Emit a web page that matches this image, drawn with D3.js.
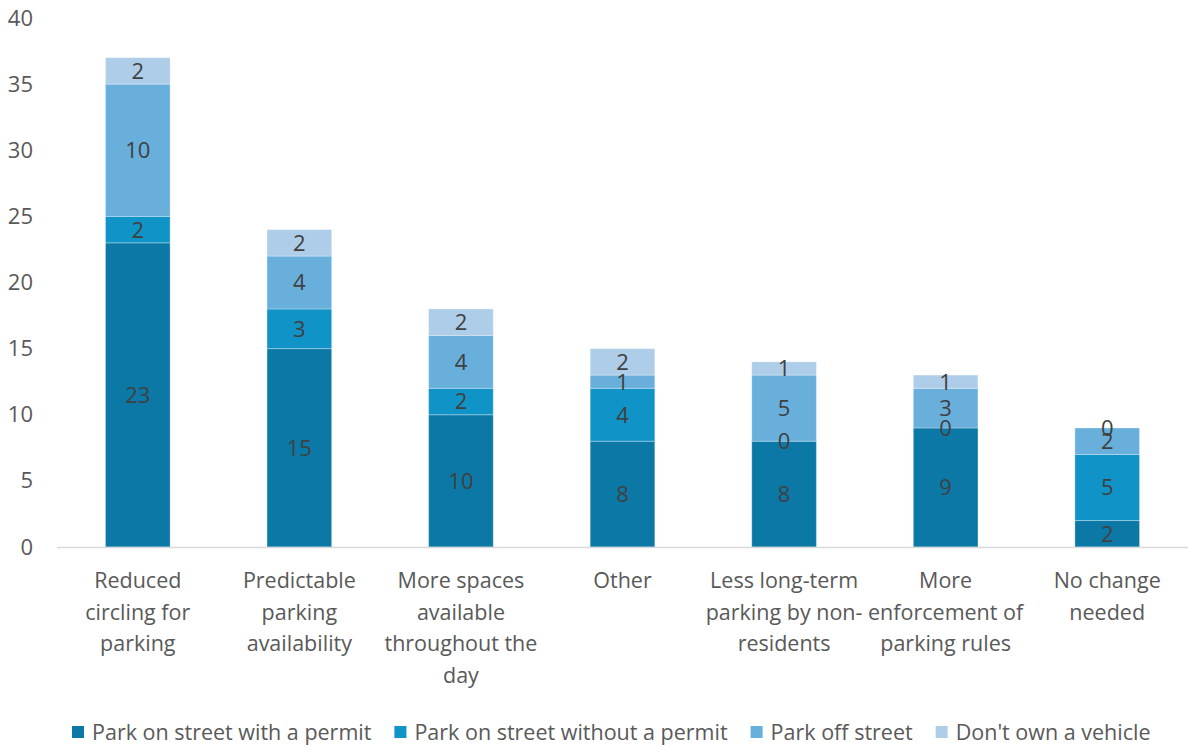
<!DOCTYPE html>
<html>
<head>
<meta charset="utf-8">
<script src="https://cdn.jsdelivr.net/npm/d3@7"></script>
<style>
  html, body { margin: 0; padding: 0; background: #fff; }
  svg text { font-family: "Open Sans", "Noto Sans", sans-serif; }
</style>
</head>
<body>
<svg id="chart" width="1188" height="747"></svg>
<script>
// Survey responses: what would improve parking, split by respondent parking situation
const categories = [
  "Reduced circling for parking",
  "Predictable parking availability",
  "More spaces available throughout the day",
  "Other",
  "Less long-term parking by non-residents",
  "More enforcement of parking rules",
  "No change needed"
];
// Wrapped tick label lines for each category
const categoryLines = [
  ["Reduced", "circling for", "parking"],
  ["Predictable", "parking", "availability"],
  ["More spaces", "available", "throughout the", "day"],
  ["Other"],
  ["Less long-term", "parking by non-", "residents"],
  ["More", "enforcement of", "parking rules"],
  ["No change", "needed"]
];
const seriesNames = [
  "Park on street with a permit",
  "Park on street without a permit",
  "Park off street",
  "Don't own a vehicle"
];
const withPermit    = [23, 15, 10, 8, 8, 9, 2];
const withoutPermit = [2, 3, 2, 4, 0, 0, 5];
const offStreet     = [10, 4, 4, 1, 5, 3, 2];
const noVehicle     = [2, 2, 2, 2, 1, 1, 0];
const yTicks = [0, 5, 10, 15, 20, 25, 30, 35, 40];

const colors = ["#0c78a6", "#1093c6", "#68afdc", "#aecde8"];
const seriesValues = [withPermit, withoutPermit, offStreet, noVehicle];

const svg = d3.select("#chart");
const plotBottom = 547, plotTop = 18;

const x = d3.scaleBand().domain(categories).range([57, 1188]).paddingInner(0.6).paddingOuter(0.3);
const y = d3.scaleLinear().domain([0, 40]).range([plotBottom, plotTop]);

// Stack the four series
const rows = categories.map((c, i) => {
  const r = { category: c };
  seriesNames.forEach((s, k) => r[s] = seriesValues[k][i]);
  return r;
});
const stacked = d3.stack().keys(seriesNames)(rows);

// Y axis tick labels (no axis line, no gridlines)
const yAxis = d3.axisLeft(y).tickValues(yTicks).tickSize(0).tickPadding(0);
const yG = svg.append("g").attr("transform", "translate(33,0)").call(yAxis);
yG.select(".domain").remove();
yG.selectAll("text")
  .attr("fill", "#595959")
  .style("font-size", "22px")
  .style("font-family", "'Open Sans', sans-serif")
  .attr("text-anchor", "end");

// Bars
const layer = svg.append("g").selectAll("g").data(stacked).join("g")
  .attr("fill", (d, i) => colors[i]);
layer.selectAll("rect").data(d => d.map(v => ({ v, cat: v.data.category })))
  .join("rect")
  .attr("x", d => x(d.cat))
  .attr("width", x.bandwidth())
  .attr("y", d => y(d.v[1]))
  .attr("height", d => y(d.v[0]) - y(d.v[1]))
  .attr("stroke", "rgba(255,255,255,0.3)")
  .attr("stroke-width", 1);

// X axis baseline and category labels
const xAxis = d3.axisBottom(x).tickSize(0).tickFormat("");
const xG = svg.append("g").attr("transform", `translate(0,${plotBottom})`).call(xAxis);
xG.select(".domain").attr("stroke", "#d9d9d9").attr("stroke-width", 1.5)
  .attr("d", `M57,0.5H1188`);

const catLabels = svg.append("g").selectAll("text").data(categories).join("text")
  .attr("x", d => x(d) + x.bandwidth() / 2)
  .attr("y", 588)
  .attr("text-anchor", "middle")
  .attr("fill", "#595959")
  .style("font-size", "21.5px");
catLabels.each(function(d, i) {
  const t = d3.select(this);
  categoryLines[i].forEach((line, j) => {
    t.append("tspan").attr("x", x(d) + x.bandwidth() / 2).attr("dy", j === 0 ? 0 : 31.7).text(line);
  });
});

// Value labels centred in each segment
svg.append("g").selectAll("g").data(stacked).join("g")
  .selectAll("text").data(d => d.map(v => ({ v, cat: v.data.category, val: v[1] - v[0] })))
  .join("text")
  .attr("x", d => x(d.cat) + x.bandwidth() / 2)
  .attr("y", d => (y(d.v[0]) + y(d.v[1])) / 2)
  .attr("dy", "0.36em")
  .attr("text-anchor", "middle")
  .attr("fill", "#404040")
  .style("font-size", "22px")
  .text(d => d.val);

// Legend
const legend = svg.append("g").attr("transform", "translate(0,732)");
let lx = 72;
seriesNames.forEach((name, i) => {
  const g = legend.append("g").attr("transform", `translate(${lx},0)`);
  g.append("rect").attr("x", 0).attr("y", -6).attr("width", 12).attr("height", 12).attr("fill", colors[i]);
  const t = g.append("text").attr("x", 20).attr("y", 0).attr("dy", "0.36em")
    .attr("fill", "#595959").style("font-size", "21.5px").text(name);
  lx += 20 + t.node().getComputedTextLength() + 23;
});
</script>
</body>
</html>
